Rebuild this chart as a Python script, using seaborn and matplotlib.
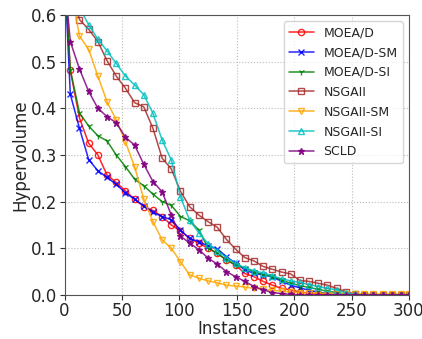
import numpy as np
import pandas as pd
import seaborn as sns
import matplotlib
matplotlib.use("Agg")
import matplotlib.pyplot as plt

instances = [1, 5, 13, 21, 29, 37, 45, 53, 61, 69, 77, 85, 93, 101, 109, 117, 125, 133,
             141, 149, 157, 165, 173, 181, 189, 197, 205, 213, 221, 229, 237, 245, 253,
             261, 269, 277, 285, 293, 300]

moead = [0.66, 0.481, 0.379, 0.325, 0.300, 0.257, 0.241, 0.223, 0.205, 0.189, 0.181, 0.168,
         0.150, 0.137, 0.121, 0.111, 0.100, 0.089, 0.075, 0.064, 0.046, 0.039, 0.029, 0.021,
         0.014, 0.011, 0.006, 0.004, 0.002, 0.001, 0.0, 0.0, 0.0, 0.0, 0.0, 0.0, 0.0, 0.0, 0.0]
moead_sm = [0.64, 0.430, 0.357, 0.290, 0.266, 0.252, 0.237, 0.219, 0.205, 0.191, 0.177, 0.168,
            0.161, 0.139, 0.121, 0.114, 0.105, 0.099, 0.082, 0.068, 0.054, 0.046, 0.043, 0.039,
            0.029, 0.021, 0.015, 0.010, 0.006, 0.003, 0.001, 0.0, 0.0, 0.0, 0.0, 0.0, 0.0, 0.0, 0.0]
moead_si = [0.64, 0.483, 0.390, 0.362, 0.341, 0.330, 0.300, 0.275, 0.248, 0.234, 0.216, 0.200,
            0.192, 0.168, 0.159, 0.139, 0.101, 0.089, 0.075, 0.064, 0.058, 0.050, 0.043, 0.040,
            0.032, 0.025, 0.020, 0.016, 0.012, 0.008, 0.005, 0.002, 0.0, 0.0, 0.0, 0.0, 0.0, 0.0, 0.0]
nsgaii = [0.75, 0.66, 0.590, 0.569, 0.543, 0.502, 0.469, 0.443, 0.412, 0.403, 0.357, 0.293,
          0.270, 0.222, 0.189, 0.171, 0.157, 0.145, 0.119, 0.098, 0.080, 0.073, 0.061, 0.055,
          0.049, 0.045, 0.031, 0.029, 0.025, 0.021, 0.014, 0.007, 0.002, 0.0, 0.0, 0.0, 0.0, 0.0, 0.0]
nsgaii_sm = [0.76, 0.66, 0.555, 0.526, 0.469, 0.414, 0.375, 0.328, 0.275, 0.205, 0.157, 0.118,
             0.100, 0.071, 0.043, 0.036, 0.030, 0.026, 0.021, 0.019, 0.017, 0.014, 0.012, 0.010,
             0.008, 0.006, 0.005, 0.004, 0.004, 0.003, 0.003, 0.003, 0.002, 0.002, 0.002, 0.002,
             0.002, 0.002, 0.002]
nsgaii_si = [0.78, 0.68, 0.615, 0.579, 0.548, 0.523, 0.496, 0.469, 0.450, 0.429, 0.389, 0.332,
             0.289, 0.210, 0.160, 0.133, 0.110, 0.095, 0.080, 0.068, 0.058, 0.052, 0.047, 0.041,
             0.035, 0.030, 0.027, 0.022, 0.018, 0.014, 0.011, 0.005, 0.001, 0.0, 0.0, 0.0, 0.0, 0.0, 0.0]
scld = [0.65, 0.543, 0.484, 0.436, 0.400, 0.382, 0.369, 0.338, 0.321, 0.280, 0.243, 0.221,
        0.171, 0.126, 0.111, 0.097, 0.079, 0.066, 0.050, 0.039, 0.029, 0.018, 0.011, 0.005,
        0.003, 0.001, 0.0, 0.0, 0.0, 0.0, 0.0, 0.0, 0.0, 0.0, 0.0, 0.0, 0.0, 0.0, 0.0]

names = ["MOEA/D", "MOEA/D-SM", "MOEA/D-SI", "NSGAII", "NSGAII-SM", "NSGAII-SI", "SCLD"]
series = [moead, moead_sm, moead_si, nsgaii, nsgaii_sm, nsgaii_si, scld]
colors = ["red", "blue", "green", "brown", "orange", "c", "purple"]
markers = ["o", "x", "1", "s", "v", "^", "*"]
filled = [False, True, True, False, False, False, True]

sns.set_style("ticks")
fig = plt.figure(figsize=(4.22, 3.39), dpi=100)
ax = fig.add_axes([0.153, 0.130, 0.816, 0.826])

for name, vals, col, mk, fl in zip(names, series, colors, markers, filled):
    sns.lineplot(x=instances, y=vals, color=col, label=name, ax=ax)
    ln = ax.lines[-1]
    ln.set_linestyle("-")
    ln.set_linewidth(1.1)
    ln.set_alpha(0.85)
    ln.set_marker(mk)
    ln.set_markersize(4.5)
    ln.set_markeredgewidth(1.0)
    ln.set_markeredgecolor(col)
    ln.set_markerfacecolor("none" if not fl else col)
    ln.set_markevery(slice(1, None))

ax.set_xlim(0, 300)
ax.set_ylim(0, 0.6)
ax.set_xticks([0, 50, 100, 150, 200, 250, 300])
ax.set_yticks([0.0, 0.1, 0.2, 0.3, 0.4, 0.5, 0.6])
ax.set_yticklabels(["0.0", "0.1", "0.2", "0.3", "0.4", "0.5", "0.6"])
ax.tick_params(labelsize=12, length=3.5, pad=1.5, color="#333333")
ax.grid(True, linestyle=":", color="#bbbbbb", linewidth=0.8)
for s in ax.spines.values():
    s.set_color("#555555")
    s.set_visible(True)
ax.set_xlabel("Instances", fontsize=12, labelpad=0)
ax.set_ylabel("Hypervolume", fontsize=12, labelpad=1)
handles = ax.lines[:len(names)]
leg = ax.legend(handles, names, loc="upper right", fontsize=9, frameon=True,
                borderaxespad=0.5, handlelength=2.0, labelspacing=0.55)
leg.get_frame().set_edgecolor("#cccccc")

fig.savefig("out.png", dpi=100)
